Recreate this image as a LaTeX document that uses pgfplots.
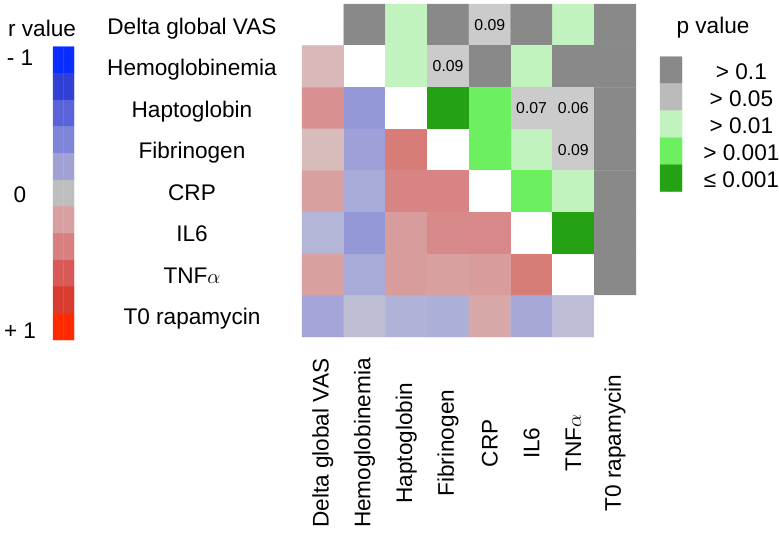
\documentclass[border=0pt]{standalone}
\usepackage{pgfplots}
\pgfplotsset{compat=1.18}
\usepackage{fontspec}
\setmainfont{Liberation Sans}
\newcommand\lab{\fontsize{22.6bp}{27bp}\selectfont}
\newcommand\pvfont{\fontsize{15.8bp}{18bp}\selectfont}
\pgfplotsset{
  colormap={cells}{
    rgb255=(255,255,255) rgb255=(137,137,137) rgb255=(203,203,203)
    rgb255=(194,242,190) rgb255=(108,240,96) rgb255=(36,162,20)
    rgb255=(216,184,184)
    rgb255=(216,144,144) rgb255=(148,152,214)
    rgb255=(216,188,188) rgb255=(160,160,216) rgb255=(216,124,120)
    rgb255=(216,160,160) rgb255=(168,170,216) rgb255=(216,132,132) rgb255=(216,132,132)
    rgb255=(180,182,216) rgb255=(148,152,214) rgb255=(216,156,156) rgb255=(216,138,138) rgb255=(216,136,136)
    rgb255=(216,160,160) rgb255=(168,170,216) rgb255=(216,156,156) rgb255=(216,160,160) rgb255=(216,156,156) rgb255=(216,124,120)
    rgb255=(164,164,216) rgb255=(190,190,212) rgb255=(176,178,216) rgb255=(172,176,216) rgb255=(216,168,168) rgb255=(168,168,216) rgb255=(190,190,216)
  },
  colormap={rbar}{
    rgb255=(10,45,255) rgb255=(49,64,212) rgb255=(90,100,216) rgb255=(126,132,216)
    rgb255=(160,162,214) rgb255=(190,190,190) rgb255=(216,160,160) rgb255=(216,128,128)
    rgb255=(216,90,88) rgb255=(216,60,46) rgb255=(255,42,0)
  },
  colormap={pbar}{
    rgb255=(137,137,137) rgb255=(187,187,187) rgb255=(194,242,190)
    rgb255=(108,240,96) rgb255=(36,162,20)
  },
}
\pgfplotstableread{
x y c
0 0 0
1 0 1
2 0 3
3 0 1
4 0 2
5 0 1
6 0 3
7 0 1
0 1 6
1 1 0
2 1 3
3 1 2
4 1 1
5 1 3
6 1 1
7 1 1
0 2 7
1 2 8
2 2 0
3 2 5
4 2 4
5 2 2
6 2 2
7 2 1
0 3 9
1 3 10
2 3 11
3 3 0
4 3 4
5 3 3
6 3 2
7 3 1
0 4 12
1 4 13
2 4 14
3 4 15
4 4 0
5 4 4
6 4 3
7 4 1
0 5 16
1 5 17
2 5 18
3 5 19
4 5 20
5 5 0
6 5 5
7 5 1
0 6 21
1 6 22
2 6 23
3 6 24
4 6 25
5 6 26
6 6 0
7 6 1
0 7 27
1 7 28
2 7 29
3 7 30
4 7 31
5 7 32
6 7 33
7 7 0
}\cells
\pgfplotstableread{
x y t
4 0 0.09
3 1 0.09
5 2 0.07
6 2 0.06
6 3 0.09
}\pvals
\pgfplotstableread{
x y c
-0.25 0 0
0.25 0 0
-0.25 1 1
0.25 1 1
-0.25 2 2
0.25 2 2
-0.25 3 3
0.25 3 3
-0.25 4 4
0.25 4 4
-0.25 5 5
0.25 5 5
-0.25 6 6
0.25 6 6
-0.25 7 7
0.25 7 7
-0.25 8 8
0.25 8 8
-0.25 9 9
0.25 9 9
-0.25 10 10
0.25 10 10
}\rbar
\pgfplotstableread{
x y c
-0.25 0 0
0.25 0 0
-0.25 1 1
0.25 1 1
-0.25 2 2
0.25 2 2
-0.25 3 3
0.25 3 3
-0.25 4 4
0.25 4 4
}\pbar
\begin{document}
\begin{tikzpicture}
\useasboundingbox (0,0) rectangle (779bp,-534bp);
% main matrix
\begin{axis}[at={(302bp,-4bp)}, anchor=north west, scale only axis,
  width=334bp, height=333bp, xmin=-0.5, xmax=7.5, ymin=-0.5, ymax=7.5,
  y dir=reverse, hide axis, clip=false,
  colormap name=cells, colormap access=direct]
\addplot[matrix plot*, mesh/cols=8, point meta=explicit] table[x=x, y=y, meta=c] {\cells};
\addplot[draw=none, nodes near coords, nodes near coords align={center},
  point meta=explicit symbolic,
  every node near coord/.append style={font=\pvfont, text=black, anchor=center}]
  table[x=x, y=y, meta=t] {\pvals};
\node[font=\lab] at (axis cs:-3.135,0.1) {Delta global VAS};
\node[font=\lab] at (axis cs:-3.135,1.08) {Hemoglobinemia};
\node[font=\lab] at (axis cs:-3.135,2.08) {Haptoglobin};
\node[font=\lab] at (axis cs:-3.135,3.08) {Fibrinogen};
\node[font=\lab] at (axis cs:-3.135,4.03) {CRP};
\node[font=\lab] at (axis cs:-3.135,5.03) {IL6};
\node[font=\lab] at (axis cs:-3.135,6.03) {TNF$\alpha$};
\node[font=\lab] at (axis cs:-3.135,7.05) {T0 rapamycin};
\node[font=\lab, rotate=90] at (axis cs:0,10.05) {Delta global VAS};
\node[font=\lab, rotate=90] at (axis cs:1,10.05) {Hemoglobinemia};
\node[font=\lab, rotate=90] at (axis cs:2,10.05) {Haptoglobin};
\node[font=\lab, rotate=90] at (axis cs:3,10.05) {Fibrinogen};
\node[font=\lab, rotate=90] at (axis cs:4,10.05) {CRP};
\node[font=\lab, rotate=90] at (axis cs:5,10.05) {IL6};
\node[font=\lab, rotate=90] at (axis cs:6,10.05) {TNF$\alpha$};
\node[font=\lab, rotate=90] at (axis cs:7,10.05) {T0 rapamycin};
\end{axis}
% r value colour bar
\begin{axis}[at={(53bp,-46.7bp)}, anchor=north west, scale only axis,
  width=21bp, height=293.3bp, xmin=-0.5, xmax=0.5, ymin=-0.5, ymax=10.5,
  y dir=reverse, hide axis, clip=false,
  colormap name=rbar, colormap access=direct]
\addplot[matrix plot*, mesh/cols=2, point meta=explicit] table[x=x, y=y, meta=c] {\rbar};
\node[font=\lab] at (axis cs:-1.02,-1.18) {r value};
\node[font=\lab] at (axis cs:-2.07,-0.1) {- 1};
\node[font=\lab] at (axis cs:-2.07,5.05) {0};
\node[font=\lab] at (axis cs:-2.07,10.15) {+ 1};
\end{axis}
% p value legend
\begin{axis}[at={(660bp,-56.7bp)}, anchor=north west, scale only axis,
  width=22bp, height=135bp, xmin=-0.5, xmax=0.5, ymin=-0.5, ymax=4.5,
  y dir=reverse, hide axis, clip=false,
  colormap name=pbar, colormap access=direct]
\addplot[matrix plot*, mesh/cols=2, point meta=explicit] table[x=x, y=y, meta=c] {\pbar};
\node[font=\lab] at (axis cs:1.91,-1.56) {p value};
\node[font=\lab] at (axis cs:3.2,0.05) {> 0.1};
\node[font=\lab] at (axis cs:3.2,1.05) {> 0.05};
\node[font=\lab] at (axis cs:3.2,2.05) {> 0.01};
\node[font=\lab] at (axis cs:3.2,3.05) {> 0.001};
\node[font=\lab] at (axis cs:3.2,4.05) {≤ 0.001};
\end{axis}
\end{tikzpicture}
\end{document}
